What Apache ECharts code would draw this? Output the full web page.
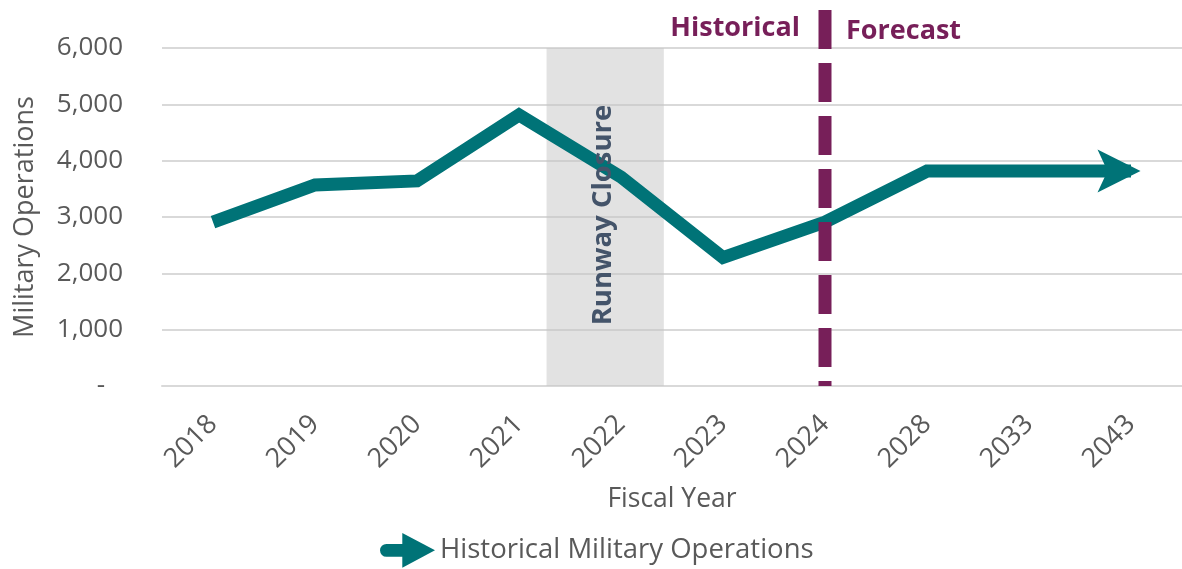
<!DOCTYPE html>
<html>
<head>
<meta charset="utf-8">
<script src="https://cdn.jsdelivr.net/npm/echarts@6/dist/echarts.min.js"></script>
<style>
  html, body { margin: 0; padding: 0; background: #fff; }
  #chart { width: 1182px; height: 569px; }
</style>
</head>
<body>
<div id="chart"></div>
<script>
// data
const years = ["2018", "2019", "2020", "2021", "2022", "2023", "2024", "2028", "2033", "2043"]
const militaryOps = [2910, 3570, 3640, 4810, 3710, 2280, 2910, 3815, 3815, 3815]
const yTicks = [0, 1000, 2000, 3000, 4000, 5000, 6000]
// runway closure band, in category-index units
const closureStart = 3.27
const closureEnd = 4.42
const forecastIndex = 6

const teal = "#007377"
const purple = "#771F59"
const gray = "#595959"
const font = "'Open Sans', 'Noto Sans', sans-serif"

const arrowHead = "path://M0,0 L43,21.5 L0,43 L10,21.5 Z"
const legendArrow = "path://M6,11 L22,11 L22,0 L55,17.5 L22,35 L22,24 L6,24 A6.5,6.5 0 0 1 6,11 Z"

const chart = echarts.init(document.getElementById("chart"))

const lineData = militaryOps.map((v, i) =>
  i === militaryOps.length - 1
    ? { value: v, symbol: arrowHead, symbolSize: [43, 43], symbolOffset: [-12, 0], itemStyle: { color: teal } }
    : v
)

chart.setOption({
  animation: false,
  textStyle: { fontFamily: font },
  grid: [
    { left: 162, top: 48, width: 1024, height: 338 },
    { left: 162, top: 10, width: 1024, height: 376 }
  ],
  legend: {
    top: 528,
    left: 375,
    itemWidth: 55,
    itemHeight: 35,
    itemGap: 8,
    data: [{ name: "Historical Military Operations", icon: legendArrow }],
    textStyle: { fontSize: 27.5, color: gray, fontFamily: font },
    itemStyle: { color: teal }
  },
  xAxis: [
    {
      type: "category",
      data: years,
      boundaryGap: true,
      name: "Fiscal Year",
      nameLocation: "middle",
      nameGap: 100,
      nameTextStyle: { fontSize: 26.5, color: gray },
      axisLine: { lineStyle: { color: "#d9d9d9", width: 2 } },
      axisTick: { alignWithLabel: true, length: 10, lineStyle: { color: "#d9d9d9", width: 2 } },
      axisLabel: { rotate: 45, fontSize: 27, color: gray, margin: 34, padding: [9, 0, 0, 0] }
    },
    { type: "value", gridIndex: 0, min: -0.5, max: 9.5, show: false },
    { type: "value", gridIndex: 1, min: -0.5, max: 9.5, show: false }
  ],
  yAxis: [
    {
      type: "value",
      min: yTicks[0],
      max: yTicks[yTicks.length - 1],
      interval: 1000,
      name: "Military Operations",
      nameLocation: "middle",
      nameGap: 123,
      nameTextStyle: { fontSize: 27, color: gray },
      axisLine: { show: false },
      axisTick: { show: false },
      splitLine: { lineStyle: { color: "#d9d9d9", width: 2 } },
      axisLabel: {
        fontSize: 26,
        color: gray,
        margin: 39,
        formatter: v => (v === 0 ? "-  \u2009" : v.toLocaleString("en-US"))
      }
    },
    { type: "value", gridIndex: 1, min: 0, max: 1, show: false }
  ],
  series: [
    {
      name: "Historical Military Operations",
      type: "line",
      data: lineData,
      symbol: "none",
      showSymbol: true,
      z: 2,
      lineStyle: { color: teal, width: 13, cap: "butt", join: "miter" },
      itemStyle: { color: teal }
    },
    {
      name: "closure",
      type: "line",
      xAxisIndex: 1,
      data: [],
      z: 3,
      silent: true,
      markArea: {
        silent: true,
        itemStyle: { color: "rgba(198,198,198,0.5)" },
        data: [[{ xAxis: closureStart }, { xAxis: closureEnd }]]
      }
    },
    {
      name: "split",
      type: "line",
      xAxisIndex: 2,
      yAxisIndex: 1,
      data: [[forecastIndex, 1], [forecastIndex, 0]],
      symbol: "none",
      z: 4,
      silent: true,
      lineStyle: { color: purple, width: 13, type: [39, 14], cap: "butt" }
    }
  ],
  graphic: [
    {
      type: "text",
      z: 10,
      x: 603,
      y: 215,
      rotation: Math.PI / 2,
      style: {
        text: "Runway Closure",
        fill: "#44546A",
        font: "bold 27.5px " + font,
        textAlign: "center",
        textVerticalAlign: "middle"
      }
    },
    {
      type: "text",
      z: 10,
      x: 800,
      y: 28,
      style: {
        text: "Historical",
        fill: purple,
        font: "bold 27px " + font,
        textAlign: "right",
        textVerticalAlign: "middle"
      }
    },
    {
      type: "text",
      z: 10,
      x: 846,
      y: 31,
      style: {
        text: "Forecast",
        fill: purple,
        font: "bold 27px " + font,
        textAlign: "left",
        textVerticalAlign: "middle"
      }
    }
  ]
})

window.addEventListener("resize", () => chart.resize())
</script>
</body>
</html>
